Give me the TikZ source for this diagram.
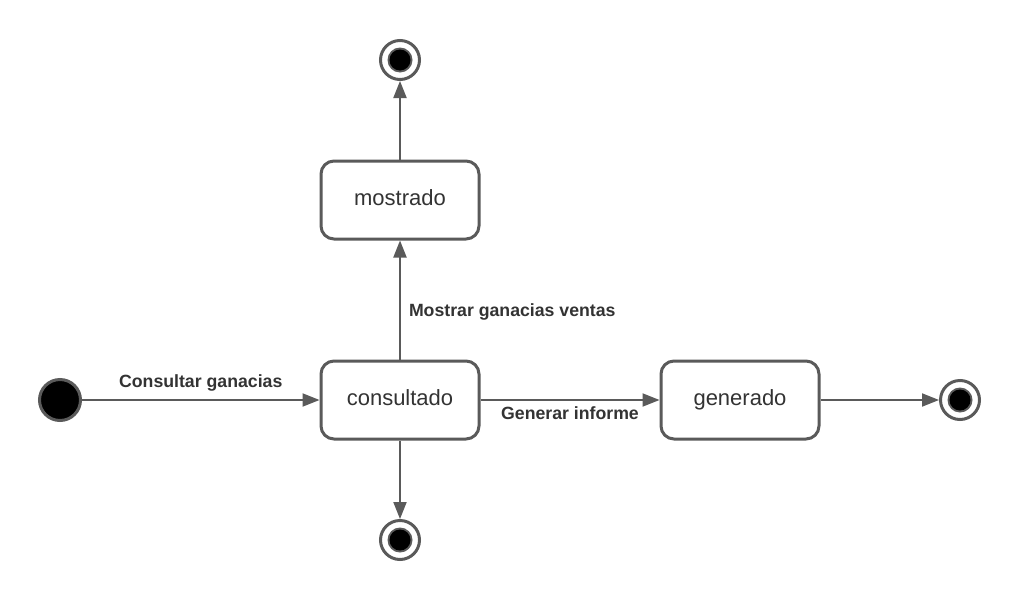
\documentclass[tikz,border=0pt]{standalone}
\usepackage{fontspec}
\setmainfont{Liberation Sans}
\usetikzlibrary{arrows.meta}
\definecolor{strk}{HTML}{5A5A5A}
\definecolor{txt}{HTML}{333333}
\begin{document}
\begin{tikzpicture}[x=1pt,y=-1pt,
  state/.style={draw=strk,line width=3pt,rounded corners=13pt,minimum width=158pt,minimum height=78pt,inner sep=0pt,text=txt,font=\fontsize{22}{26}\selectfont},
  stlbl/.style={text=txt,font=\fontsize{22}{26}\selectfont,inner sep=0pt,anchor=base},
  initst/.style={circle,draw=strk,line width=3pt,fill=black,minimum size=41pt,inner sep=0pt},
  finst/.style={circle,draw=strk,line width=3pt,minimum size=39pt,inner sep=0pt,
    path picture={\fill[strk] (path picture bounding box.center) circle[radius=12.5pt];
                  \fill[black] (path picture bounding box.center) circle[radius=10.5pt];}},
  tr/.style={draw=strk,line width=2pt,-{Triangle[length=17pt,width=13pt]}},
  lbl/.style={text=txt,font=\bfseries\fontsize{17.7}{21}\selectfont,inner sep=0pt}]
\useasboundingbox[fill=white] (0,0) rectangle (1020,600);
\node[initst] (init) at (60,400) {};
\node[state] (cons) at (400,400) {};
\node[state] (most) at (400,200) {};
\node[state] (gen) at (740,400) {};
\node[stlbl] (consT) at (400,405) {consultado};
\node[stlbl] (mostT) at (400,205) {mostrado};
\node[stlbl] (genT) at (740,405) {generado};
\node[finst] (ftop) at (400,60) {};
\node[finst] (fbot) at (400,540) {};
\node[finst] (fright) at (960,400) {};
\draw[tr] (init) -- (cons) node[lbl,midway,above=8pt] {Consultar ganacias};
\draw[tr] (cons) -- (most) node[lbl,pos=0.4,right=8pt] {Mostrar ganacias ventas};
\draw[tr] (cons) -- (gen) node[lbl,midway,below=6pt] {Generar informe};
\draw[tr] (most) -- (ftop);
\draw[tr] (cons) -- (fbot);
\draw[tr] (gen) -- (fright);
\end{tikzpicture}
\end{document}
